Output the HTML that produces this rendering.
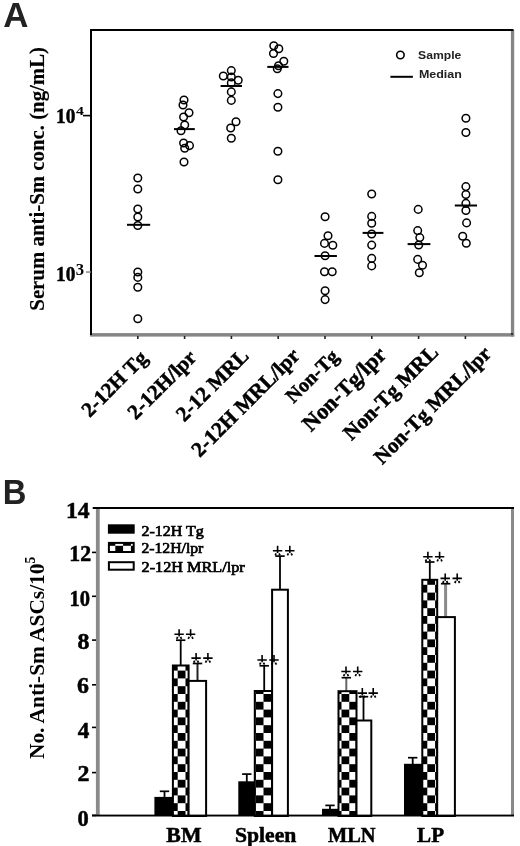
<!DOCTYPE html>
<html><head><meta charset="utf-8"><style>
html,body{margin:0;padding:0;background:#fff;}
body{width:520px;height:846px;overflow:hidden;}
svg{display:block;will-change:transform;}
</style></head><body>
<svg width="520" height="846" viewBox="0 0 520 846">
<rect x="0" y="0" width="520" height="846" fill="#fff"/>
<text x="3.3" y="26.8" font-family='"Liberation Sans", sans-serif' font-weight="bold" font-size="34.29" textLength="25.17" lengthAdjust="spacingAndGlyphs" fill="#222" >A</text>
<text x="2.7" y="503.8" font-family='"Liberation Sans", sans-serif' font-weight="bold" font-size="34.29" textLength="23.66" lengthAdjust="spacingAndGlyphs" fill="#222" >B</text>
<rect x="510.9" y="30" width="3.3" height="306.5" fill="#858585"/>
<rect x="90" y="333.1" width="424.2" height="3.5" fill="#858585"/>
<rect x="511" y="333" width="2" height="2" fill="#333"/>
<rect x="90" y="29" width="2" height="306" fill="#000"/>
<rect x="90" y="29" width="423.5" height="2" fill="#000"/>
<rect x="137.0" y="336" width="1.6" height="3" fill="#222"/>
<rect x="183.8" y="336" width="1.6" height="3" fill="#222"/>
<rect x="230.6" y="336" width="1.6" height="3" fill="#222"/>
<rect x="277.4" y="336" width="1.6" height="3" fill="#222"/>
<rect x="324.2" y="336" width="1.6" height="3" fill="#222"/>
<rect x="371.0" y="336" width="1.6" height="3" fill="#222"/>
<rect x="417.8" y="336" width="1.6" height="3" fill="#222"/>
<rect x="464.6" y="336" width="1.6" height="3" fill="#222"/>
<rect x="83" y="114.8" width="8" height="1.6" fill="#000"/>
<rect x="86" y="271.3" width="5" height="1.5" fill="#888"/>
<text x="56.0" y="123.0" font-family='"Liberation Serif", serif' font-weight="bold" font-size="21.5" textLength="19.35" lengthAdjust="spacingAndGlyphs" fill="#000" stroke="#000" stroke-width="0.5">10</text>
<text x="76.05" y="115.25" font-family='"Liberation Serif", serif' font-weight="bold" font-size="13.15" textLength="7.88" lengthAdjust="spacingAndGlyphs" fill="#000" stroke="none">4</text>
<text x="56.0" y="280.5" font-family='"Liberation Serif", serif' font-weight="bold" font-size="21.5" textLength="19.35" lengthAdjust="spacingAndGlyphs" fill="#000" stroke="#000" stroke-width="0.5">10</text>
<text x="75.85" y="275.3" font-family='"Liberation Serif", serif' font-weight="bold" font-size="15.88" textLength="8.34" lengthAdjust="spacingAndGlyphs" fill="#000" stroke="none">3</text>
<text transform="translate(43.6,310.7) rotate(-90)" font-family='"Liberation Serif", serif' font-weight="bold" font-size="22" textLength="263.71" lengthAdjust="spacingAndGlyphs" fill="#000" stroke="#000" stroke-width="0.15">Serum anti-Sm conc. (ng/mL)</text>
<circle cx="137.8" cy="178" r="3.8" fill="none" stroke="#000" stroke-width="1.5"/>
<circle cx="137.8" cy="189" r="3.8" fill="none" stroke="#000" stroke-width="1.5"/>
<circle cx="137.8" cy="209" r="3.8" fill="none" stroke="#000" stroke-width="1.5"/>
<circle cx="137.8" cy="217" r="3.8" fill="none" stroke="#000" stroke-width="1.5"/>
<circle cx="137.8" cy="225.5" r="3.8" fill="none" stroke="#000" stroke-width="1.5"/>
<circle cx="137.8" cy="272" r="3.8" fill="none" stroke="#000" stroke-width="1.5"/>
<circle cx="137.8" cy="277.4" r="3.8" fill="none" stroke="#000" stroke-width="1.5"/>
<circle cx="137.8" cy="287.3" r="3.8" fill="none" stroke="#000" stroke-width="1.5"/>
<circle cx="137.8" cy="318.8" r="3.8" fill="none" stroke="#000" stroke-width="1.5"/>
<circle cx="184" cy="100" r="3.8" fill="none" stroke="#000" stroke-width="1.5"/>
<circle cx="183" cy="105" r="3.8" fill="none" stroke="#000" stroke-width="1.5"/>
<circle cx="189" cy="112.7" r="3.8" fill="none" stroke="#000" stroke-width="1.5"/>
<circle cx="183.6" cy="117" r="3.8" fill="none" stroke="#000" stroke-width="1.5"/>
<circle cx="184.7" cy="125" r="3.8" fill="none" stroke="#000" stroke-width="1.5"/>
<circle cx="181" cy="130.7" r="3.8" fill="none" stroke="#000" stroke-width="1.5"/>
<circle cx="183.6" cy="143" r="3.8" fill="none" stroke="#000" stroke-width="1.5"/>
<circle cx="189.5" cy="145.6" r="3.8" fill="none" stroke="#000" stroke-width="1.5"/>
<circle cx="184.7" cy="148.3" r="3.8" fill="none" stroke="#000" stroke-width="1.5"/>
<circle cx="184" cy="162" r="3.8" fill="none" stroke="#000" stroke-width="1.5"/>
<circle cx="231.3" cy="70.6" r="3.8" fill="none" stroke="#000" stroke-width="1.5"/>
<circle cx="223.3" cy="76" r="3.8" fill="none" stroke="#000" stroke-width="1.5"/>
<circle cx="231.3" cy="77" r="3.8" fill="none" stroke="#000" stroke-width="1.5"/>
<circle cx="238.2" cy="80.2" r="3.8" fill="none" stroke="#000" stroke-width="1.5"/>
<circle cx="231.3" cy="82.9" r="3.8" fill="none" stroke="#000" stroke-width="1.5"/>
<circle cx="231.3" cy="91.9" r="3.8" fill="none" stroke="#000" stroke-width="1.5"/>
<circle cx="231.3" cy="100.4" r="3.8" fill="none" stroke="#000" stroke-width="1.5"/>
<circle cx="236" cy="121.7" r="3.8" fill="none" stroke="#000" stroke-width="1.5"/>
<circle cx="230.7" cy="128" r="3.8" fill="none" stroke="#000" stroke-width="1.5"/>
<circle cx="231.3" cy="138.2" r="3.8" fill="none" stroke="#000" stroke-width="1.5"/>
<circle cx="273.8" cy="45.8" r="3.8" fill="none" stroke="#000" stroke-width="1.5"/>
<circle cx="278.8" cy="48.8" r="3.8" fill="none" stroke="#000" stroke-width="1.5"/>
<circle cx="273.5" cy="53.5" r="3.8" fill="none" stroke="#000" stroke-width="1.5"/>
<circle cx="283.8" cy="61.2" r="3.8" fill="none" stroke="#000" stroke-width="1.5"/>
<circle cx="278.5" cy="65.8" r="3.8" fill="none" stroke="#000" stroke-width="1.5"/>
<circle cx="277.3" cy="68.8" r="3.8" fill="none" stroke="#000" stroke-width="1.5"/>
<circle cx="277.9" cy="93.6" r="3.8" fill="none" stroke="#000" stroke-width="1.5"/>
<circle cx="277.9" cy="107.3" r="3.8" fill="none" stroke="#000" stroke-width="1.5"/>
<circle cx="277.9" cy="151.3" r="3.8" fill="none" stroke="#000" stroke-width="1.5"/>
<circle cx="277.9" cy="179.7" r="3.8" fill="none" stroke="#000" stroke-width="1.5"/>
<circle cx="325.1" cy="216.8" r="3.8" fill="none" stroke="#000" stroke-width="1.5"/>
<circle cx="328" cy="235.7" r="3.8" fill="none" stroke="#000" stroke-width="1.5"/>
<circle cx="324.5" cy="243.4" r="3.8" fill="none" stroke="#000" stroke-width="1.5"/>
<circle cx="332.8" cy="245.2" r="3.8" fill="none" stroke="#000" stroke-width="1.5"/>
<circle cx="325.1" cy="255.8" r="3.8" fill="none" stroke="#000" stroke-width="1.5"/>
<circle cx="324.5" cy="271.8" r="3.8" fill="none" stroke="#000" stroke-width="1.5"/>
<circle cx="332.2" cy="271.8" r="3.8" fill="none" stroke="#000" stroke-width="1.5"/>
<circle cx="325.1" cy="290.7" r="3.8" fill="none" stroke="#000" stroke-width="1.5"/>
<circle cx="325.1" cy="299.6" r="3.8" fill="none" stroke="#000" stroke-width="1.5"/>
<circle cx="371.7" cy="194" r="3.8" fill="none" stroke="#000" stroke-width="1.5"/>
<circle cx="371.7" cy="216.4" r="3.8" fill="none" stroke="#000" stroke-width="1.5"/>
<circle cx="371.7" cy="223.3" r="3.8" fill="none" stroke="#000" stroke-width="1.5"/>
<circle cx="371.7" cy="234" r="3.8" fill="none" stroke="#000" stroke-width="1.5"/>
<circle cx="371.7" cy="245.1" r="3.8" fill="none" stroke="#000" stroke-width="1.5"/>
<circle cx="371.7" cy="258.4" r="3.8" fill="none" stroke="#000" stroke-width="1.5"/>
<circle cx="371.7" cy="265.9" r="3.8" fill="none" stroke="#000" stroke-width="1.5"/>
<circle cx="418.2" cy="209.4" r="3.8" fill="none" stroke="#000" stroke-width="1.5"/>
<circle cx="417.7" cy="230.6" r="3.8" fill="none" stroke="#000" stroke-width="1.5"/>
<circle cx="419.8" cy="237.6" r="3.8" fill="none" stroke="#000" stroke-width="1.5"/>
<circle cx="418.7" cy="245" r="3.8" fill="none" stroke="#000" stroke-width="1.5"/>
<circle cx="417.7" cy="259.4" r="3.8" fill="none" stroke="#000" stroke-width="1.5"/>
<circle cx="422.5" cy="265.2" r="3.8" fill="none" stroke="#000" stroke-width="1.5"/>
<circle cx="419.3" cy="272.7" r="3.8" fill="none" stroke="#000" stroke-width="1.5"/>
<circle cx="465.9" cy="118.3" r="3.8" fill="none" stroke="#000" stroke-width="1.5"/>
<circle cx="465.9" cy="132.5" r="3.8" fill="none" stroke="#000" stroke-width="1.5"/>
<circle cx="465.9" cy="186.6" r="3.8" fill="none" stroke="#000" stroke-width="1.5"/>
<circle cx="465.9" cy="194.5" r="3.8" fill="none" stroke="#000" stroke-width="1.5"/>
<circle cx="465.9" cy="203.4" r="3.8" fill="none" stroke="#000" stroke-width="1.5"/>
<circle cx="465.9" cy="210.5" r="3.8" fill="none" stroke="#000" stroke-width="1.5"/>
<circle cx="466.6" cy="222.9" r="3.8" fill="none" stroke="#000" stroke-width="1.5"/>
<circle cx="462.7" cy="236.2" r="3.8" fill="none" stroke="#000" stroke-width="1.5"/>
<circle cx="466.3" cy="243.3" r="3.8" fill="none" stroke="#000" stroke-width="1.5"/>
<rect x="127" y="223.8" width="23.2" height="2" fill="#000"/>
<rect x="174" y="128.1" width="20.8" height="2" fill="#000"/>
<rect x="220.6" y="85" width="21.4" height="2" fill="#000"/>
<rect x="267.3" y="65.9" width="21.2" height="2" fill="#000"/>
<rect x="314.5" y="255" width="22.4" height="2" fill="#000"/>
<rect x="362.6" y="231.9" width="20.8" height="2" fill="#000"/>
<rect x="407.6" y="243.1" width="22.8" height="2" fill="#000"/>
<rect x="454.8" y="204.5" width="22.2" height="2" fill="#000"/>
<circle cx="400.4" cy="55.0" r="3.75" fill="none" stroke="#000" stroke-width="1.6"/>
<text x="418.1" y="58.9" font-family='"Liberation Sans", sans-serif' font-weight="bold" font-size="11.7" textLength="43.25" lengthAdjust="spacingAndGlyphs" fill="#222" >Sample</text>
<rect x="390.4" y="75.8" width="22.5" height="2" fill="#000"/>
<text x="418.9" y="78.2" font-family='"Liberation Sans", sans-serif' font-weight="bold" font-size="11.7" textLength="42.95" lengthAdjust="spacingAndGlyphs" fill="#222" >Median</text>
<text transform="translate(148.6,359.1) rotate(-45)" text-anchor="end" font-family='"Liberation Serif", serif' font-weight="bold" font-size="20.8" fill="#000" stroke="#000" stroke-width="0.5">2-12H Tg</text>
<text transform="translate(197.7,358.6) rotate(-45)" text-anchor="end" font-family='"Liberation Serif", serif' font-weight="bold" font-size="21.0" fill="#000" stroke="#000" stroke-width="0.5">2-12H/lpr</text>
<text transform="translate(249.9,357.0) rotate(-45)" text-anchor="end" font-family='"Liberation Serif", serif' font-weight="bold" font-size="21.0" fill="#000" stroke="#000" stroke-width="0.5">2-12 MRL</text>
<text transform="translate(300.9,356.9) rotate(-45)" text-anchor="end" font-family='"Liberation Serif", serif' font-weight="bold" font-size="21.2" fill="#000" stroke="#000" stroke-width="0.5">2-12H MRL/lpr</text>
<text transform="translate(339.9,357.7) rotate(-45)" text-anchor="end" font-family='"Liberation Serif", serif' font-weight="bold" font-size="20.0" fill="#000" stroke="#000" stroke-width="0.5">Non-Tg</text>
<text transform="translate(387.5,356.0) rotate(-45)" text-anchor="end" font-family='"Liberation Serif", serif' font-weight="bold" font-size="22.4" fill="#000" stroke="#000" stroke-width="0.5">Non-Tg/lpr</text>
<text transform="translate(439.4,353.5) rotate(-45)" text-anchor="end" font-family='"Liberation Serif", serif' font-weight="bold" font-size="21.2" fill="#000" stroke="#000" stroke-width="0.5">Non-Tg MRL</text>
<text transform="translate(492.3,355.0) rotate(-45)" text-anchor="end" font-family='"Liberation Serif", serif' font-weight="bold" font-size="21.0" fill="#000" stroke="#000" stroke-width="0.5">Non-Tg MRL/lpr</text>
<defs><pattern id="chk" patternUnits="userSpaceOnUse" x="177.7" y="670.6" width="15.6" height="15.6"><rect x="0" y="0" width="15.6" height="15.6" fill="#fff"/><rect x="0" y="0" width="7.8" height="7.8" fill="#000"/><rect x="7.8" y="7.8" width="7.8" height="7.8" fill="#000"/></pattern></defs>
<line x1="164.5" y1="798.9" x2="164.5" y2="791.3" stroke="#000" stroke-width="1.8"/>
<line x1="159.8" y1="791.3" x2="169.2" y2="791.3" stroke="#000" stroke-width="1.7"/>
<line x1="180.7" y1="667.5" x2="180.7" y2="640.2" stroke="#000" stroke-width="1.8"/>
<line x1="176.0" y1="640.2" x2="185.4" y2="640.2" stroke="#000" stroke-width="1.7"/>
<line x1="197.5" y1="682.9" x2="197.5" y2="663.5" stroke="#222" stroke-width="2.0"/>
<line x1="192.8" y1="663.5" x2="202.2" y2="663.5" stroke="#000" stroke-width="1.7"/>
<rect x="154.4" y="796.9" width="19.0" height="19.1" fill="#000"/>
<rect x="172.9" y="665.5" width="15.7" height="150.5" fill="url(#chk)" stroke="#000" stroke-width="2"/>
<rect x="188.6" y="680.9" width="17.5" height="135.1" fill="#fff" stroke="#000" stroke-width="2"/>
<path d="M179.1 629.3V636.6M174.4 634.3H183.8" stroke="#000" stroke-width="1.6" fill="none"/>
<path d="M177.7 636.9L176.7 638.9M180.5 636.9L181.5 638.9" stroke="#000" stroke-width="1.7" fill="none"/>
<path d="M190.6 629.3V636.6M185.9 634.3H195.3" stroke="#000" stroke-width="1.6" fill="none"/>
<path d="M189.2 636.9L188.2 638.9M192.0 636.9L193.0 638.9" stroke="#000" stroke-width="1.7" fill="none"/>
<path d="M196.1 653.1V660.4M191.4 658.1H200.8" stroke="#000" stroke-width="1.6" fill="none"/>
<path d="M194.7 660.7L193.7 662.7M197.5 660.7L198.5 662.7" stroke="#000" stroke-width="1.7" fill="none"/>
<path d="M207.9 653.1V660.4M203.2 658.1H212.6" stroke="#000" stroke-width="1.6" fill="none"/>
<path d="M206.5 660.7L205.5 662.7M209.3 660.7L210.3 662.7" stroke="#000" stroke-width="1.7" fill="none"/>
<line x1="246.8" y1="783.3" x2="246.8" y2="774.1" stroke="#000" stroke-width="1.8"/>
<line x1="242.1" y1="774.1" x2="251.5" y2="774.1" stroke="#000" stroke-width="1.7"/>
<line x1="264.2" y1="693.0" x2="264.2" y2="665.8" stroke="#000" stroke-width="1.8"/>
<line x1="259.5" y1="665.8" x2="268.9" y2="665.8" stroke="#000" stroke-width="1.7"/>
<line x1="280.0" y1="591.7" x2="280.0" y2="556.1" stroke="#000" stroke-width="1.8"/>
<line x1="275.3" y1="556.1" x2="284.7" y2="556.1" stroke="#000" stroke-width="1.7"/>
<rect x="238.3" y="781.3" width="17.0" height="34.7" fill="#000"/>
<rect x="254.8" y="691.0" width="17.3" height="125.0" fill="url(#chk)" stroke="#000" stroke-width="2"/>
<rect x="272.1" y="589.7" width="15.8" height="226.3" fill="#fff" stroke="#000" stroke-width="2"/>
<path d="M262.1 655.0V662.3M257.4 660.0H266.8" stroke="#000" stroke-width="1.6" fill="none"/>
<path d="M260.7 662.6L259.7 664.6M263.5 662.6L264.5 664.6" stroke="#000" stroke-width="1.7" fill="none"/>
<path d="M274.0 655.0V662.3M269.3 660.0H278.7" stroke="#000" stroke-width="1.6" fill="none"/>
<path d="M272.6 662.6L271.6 664.6M275.4 662.6L276.4 664.6" stroke="#000" stroke-width="1.7" fill="none"/>
<path d="M277.6 545.8V553.0M272.9 550.8H282.3" stroke="#000" stroke-width="1.6" fill="none"/>
<path d="M276.2 553.4L275.2 555.4M279.0 553.4L280.0 555.4" stroke="#000" stroke-width="1.7" fill="none"/>
<path d="M289.8 545.8V553.0M285.1 550.8H294.5" stroke="#000" stroke-width="1.6" fill="none"/>
<path d="M288.4 553.4L287.4 555.4M291.2 553.4L292.2 555.4" stroke="#000" stroke-width="1.7" fill="none"/>
<line x1="330.0" y1="810.8" x2="330.0" y2="805.4" stroke="#000" stroke-width="1.8"/>
<line x1="325.3" y1="805.4" x2="334.7" y2="805.4" stroke="#000" stroke-width="1.7"/>
<line x1="346.3" y1="693.2" x2="346.3" y2="677.7" stroke="#666" stroke-width="2.0"/>
<line x1="341.6" y1="677.7" x2="351.0" y2="677.7" stroke="#000" stroke-width="1.7"/>
<line x1="363.5" y1="722.5" x2="363.5" y2="696.7" stroke="#000" stroke-width="1.8"/>
<line x1="358.8" y1="696.7" x2="368.2" y2="696.7" stroke="#000" stroke-width="1.7"/>
<rect x="322.0" y="808.8" width="17.0" height="7.2" fill="#000"/>
<rect x="338.5" y="691.2" width="18.0" height="124.8" fill="url(#chk)" stroke="#000" stroke-width="2"/>
<rect x="356.5" y="720.5" width="14.8" height="95.5" fill="#fff" stroke="#000" stroke-width="2"/>
<path d="M346.0 666.5V673.8M341.3 671.5H350.7" stroke="#000" stroke-width="1.6" fill="none"/>
<path d="M344.6 674.1L343.6 676.1M347.4 674.1L348.4 676.1" stroke="#000" stroke-width="1.7" fill="none"/>
<path d="M357.7 666.5V673.8M353.0 671.5H362.4" stroke="#000" stroke-width="1.6" fill="none"/>
<path d="M356.3 674.1L355.3 676.1M359.1 674.1L360.1 676.1" stroke="#000" stroke-width="1.7" fill="none"/>
<path d="M362.3 688.1V695.4M357.6 693.1H367.0" stroke="#000" stroke-width="1.6" fill="none"/>
<path d="M360.9 695.7L359.9 697.7M363.7 695.7L364.7 697.7" stroke="#000" stroke-width="1.7" fill="none"/>
<path d="M373.2 688.1V695.4M368.5 693.1H377.9" stroke="#000" stroke-width="1.6" fill="none"/>
<path d="M371.8 695.7L370.8 697.7M374.6 695.7L375.6 697.7" stroke="#000" stroke-width="1.7" fill="none"/>
<line x1="412.7" y1="765.8" x2="412.7" y2="757.7" stroke="#000" stroke-width="1.8"/>
<line x1="408.0" y1="757.7" x2="417.4" y2="757.7" stroke="#000" stroke-width="1.7"/>
<line x1="429.8" y1="581.8" x2="429.8" y2="562.0" stroke="#000" stroke-width="1.8"/>
<line x1="425.1" y1="562.0" x2="434.5" y2="562.0" stroke="#000" stroke-width="1.7"/>
<line x1="445.6" y1="619.1" x2="445.6" y2="583.7" stroke="#8a8a8a" stroke-width="3.0"/>
<line x1="440.9" y1="583.7" x2="450.3" y2="583.7" stroke="#000" stroke-width="1.7"/>
<rect x="404.0" y="763.8" width="18.8" height="52.2" fill="#000"/>
<rect x="422.3" y="579.8" width="14.9" height="236.2" fill="url(#chk)" stroke="#000" stroke-width="2"/>
<rect x="437.2" y="617.1" width="17.7" height="198.9" fill="#fff" stroke="#000" stroke-width="2"/>
<path d="M427.9 551.7V559.0M423.2 556.7H432.6" stroke="#000" stroke-width="1.6" fill="none"/>
<path d="M426.5 559.3L425.5 561.3M429.3 559.3L430.3 561.3" stroke="#000" stroke-width="1.7" fill="none"/>
<path d="M439.6 551.7V559.0M434.9 556.7H444.3" stroke="#000" stroke-width="1.6" fill="none"/>
<path d="M438.2 559.3L437.2 561.3M441.0 559.3L442.0 561.3" stroke="#000" stroke-width="1.7" fill="none"/>
<path d="M445.2 573.4V580.7M440.5 578.4H449.9" stroke="#000" stroke-width="1.6" fill="none"/>
<path d="M443.8 581.0L442.8 583.0M446.6 581.0L447.6 583.0" stroke="#000" stroke-width="1.7" fill="none"/>
<path d="M457.2 573.4V580.7M452.5 578.4H461.9" stroke="#000" stroke-width="1.6" fill="none"/>
<path d="M455.8 581.0L454.8 583.0M458.6 581.0L459.6 583.0" stroke="#000" stroke-width="1.7" fill="none"/>
<rect x="95.9" y="508" width="3.8" height="308" fill="#8a8a8a"/>
<rect x="511" y="508" width="3" height="308" fill="#8a8a8a"/>
<rect x="92.7" y="507" width="421.3" height="2" fill="#000"/>
<rect x="92" y="814.6" width="422" height="1.9" fill="#000"/>
<rect x="92" y="814.6" width="4" height="1.6" fill="#000"/>
<text x="77.4" y="825.65" font-family='"Liberation Serif", serif' font-weight="bold" font-size="22.5" textLength="11.25" lengthAdjust="spacingAndGlyphs" fill="#000" stroke="#000" stroke-width="0.5">0</text>
<rect x="92" y="771.8" width="4" height="1.6" fill="#000"/>
<text x="77.4" y="781.25" font-family='"Liberation Serif", serif' font-weight="bold" font-size="22.5" textLength="11.94" lengthAdjust="spacingAndGlyphs" fill="#000" stroke="#000" stroke-width="0.5">2</text>
<rect x="92" y="726.6" width="4" height="1.6" fill="#000"/>
<text x="77.85" y="738.15" font-family='"Liberation Serif", serif' font-weight="bold" font-size="22.5" textLength="11.56" lengthAdjust="spacingAndGlyphs" fill="#000" stroke="#000" stroke-width="0.5">4</text>
<rect x="92" y="684.0" width="4" height="1.6" fill="#000"/>
<text x="76.9" y="693.45" font-family='"Liberation Serif", serif' font-weight="bold" font-size="22.5" textLength="11.94" lengthAdjust="spacingAndGlyphs" fill="#000" stroke="#000" stroke-width="0.5">6</text>
<rect x="92" y="639.3" width="4" height="1.6" fill="#000"/>
<text x="77.4" y="648.65" font-family='"Liberation Serif", serif' font-weight="bold" font-size="22.5" textLength="11.94" lengthAdjust="spacingAndGlyphs" fill="#000" stroke="#000" stroke-width="0.5">8</text>
<rect x="92" y="595.5" width="4" height="1.6" fill="#000"/>
<text x="69.6" y="605.7" font-family='"Liberation Serif", serif' font-weight="bold" font-size="22.5" textLength="20.54" lengthAdjust="spacingAndGlyphs" fill="#000" stroke="#000" stroke-width="0.5">10</text>
<rect x="92" y="551.6" width="4" height="1.6" fill="#000"/>
<text x="69.3" y="560.95" font-family='"Liberation Serif", serif' font-weight="bold" font-size="22.5" textLength="21.83" lengthAdjust="spacingAndGlyphs" fill="#000" stroke="#000" stroke-width="0.5">12</text>
<text x="66.0" y="518.0" font-family='"Liberation Serif", serif' font-weight="bold" font-size="22.5" textLength="23.67" lengthAdjust="spacingAndGlyphs" fill="#000" stroke="#000" stroke-width="0.5">14</text>
<text transform="translate(43.5,759.05) rotate(-90)" font-family='"Liberation Serif", serif' font-weight="bold" font-size="22" textLength="202.34" lengthAdjust="spacingAndGlyphs" fill="#000" stroke="none">No. Anti-Sm ASCs/10<tspan font-size="14" dy="-9">5</tspan></text>
<rect x="107.9" y="524.3" width="26.8" height="9.4" fill="#000"/>
<rect x="108.9" y="542.9" width="24.8" height="9.1" fill="url(#chk)" stroke="#000" stroke-width="2"/>
<rect x="108.9" y="562.2" width="24.8" height="7.5" fill="#fff" stroke="#000" stroke-width="2"/>
<text x="141.45" y="535.9" font-family='"Liberation Serif", serif' font-weight="normal" font-size="15.0" textLength="62.28" lengthAdjust="spacingAndGlyphs" fill="#000" stroke="#000" stroke-width="0.7">2-12H Tg</text>
<text x="141.45" y="552.8" font-family='"Liberation Serif", serif' font-weight="normal" font-size="15.0" textLength="61.93" lengthAdjust="spacingAndGlyphs" fill="#000" stroke="#000" stroke-width="0.7">2-12H/lpr</text>
<text x="141.6" y="571.8" font-family='"Liberation Serif", serif' font-weight="normal" font-size="15.0" textLength="103.14" lengthAdjust="spacingAndGlyphs" fill="#000" stroke="#000" stroke-width="0.7">2-12H MRL/lpr</text>
<text x="166.35" y="842.4" font-family='"Liberation Serif", serif' font-weight="bold" font-size="20.5" textLength="35.14" lengthAdjust="spacingAndGlyphs" fill="#000" stroke="#000" stroke-width="0.5">BM</text>
<text x="235.0" y="842.2" font-family='"Liberation Serif", serif' font-weight="bold" font-size="20.5" textLength="61.38" lengthAdjust="spacingAndGlyphs" fill="#000" stroke="#000" stroke-width="0.5">Spleen</text>
<text x="328.05" y="842.05" font-family='"Liberation Serif", serif' font-weight="bold" font-size="20.5" textLength="47.53" lengthAdjust="spacingAndGlyphs" fill="#000" stroke="#000" stroke-width="0.5">MLN</text>
<text x="417.12" y="842.38" font-family='"Liberation Serif", serif' font-weight="bold" font-size="20.5" textLength="26.97" lengthAdjust="spacingAndGlyphs" fill="#000" stroke="#000" stroke-width="0.5">LP</text>
</svg>
</body></html>
